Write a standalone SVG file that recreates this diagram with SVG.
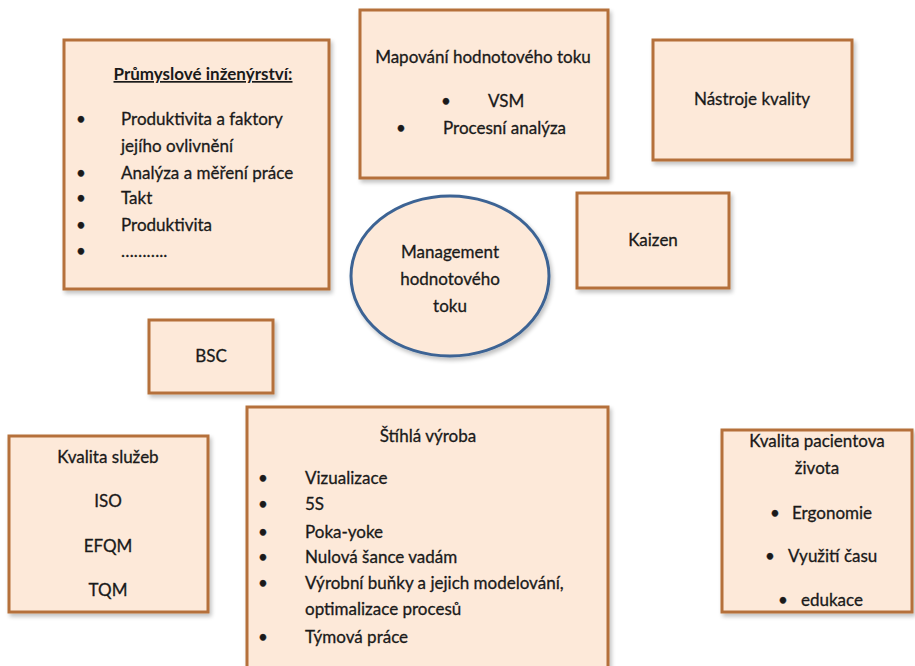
<svg xmlns="http://www.w3.org/2000/svg" width="915" height="666" viewBox="0 0 915 666">
  <defs>
    <filter id="shadow" x="-10%" y="-10%" width="125%" height="125%">
      <feGaussianBlur in="SourceAlpha" stdDeviation="2"/>
      <feOffset dx="2" dy="3" result="off"/>
      <feComponentTransfer><feFuncA type="linear" slope="0.25"/></feComponentTransfer>
      <feMerge><feMergeNode/><feMergeNode in="SourceGraphic"/></feMerge>
    </filter>
  </defs>
  <style>
    .box { fill: #FDE9D9; stroke: #B5703A; stroke-width: 3; filter: url(#shadow); }
    .oval { fill: #FDE9D9; stroke: #3C6494; stroke-width: 3; filter: url(#shadow); }
    text { font-family: "Lato", "Liberation Sans", sans-serif; font-size: 17px; fill: #1a1a1a; stroke: #1a1a1a; stroke-width: 0.3; }
    .c { text-anchor: middle; }
    .u { text-decoration: underline; font-weight: bold; stroke-width: 0; }
  </style>
  <rect width="915" height="666" fill="#ffffff"/>

  <g id="prumyslove-inzenyrstvi">
    <rect class="box" x="64" y="40" width="265" height="249"/>
    <text class="c u" x="203" y="80">Průmyslové inženýrství:</text>
    <text x="76" y="125">•</text><text x="121" y="125">Produktivita a faktory</text>
    <text x="121" y="152">jejího ovlivnění</text>
    <text x="76" y="179">•</text><text x="121" y="179">Analýza a měření práce</text>
    <text x="76" y="204">•</text><text x="121" y="204">Takt</text>
    <text x="76" y="231">•</text><text x="121" y="231">Produktivita</text>
    <text x="76" y="257">•</text><text x="121" y="257">………..</text>
  </g>

  <g id="mapovani-hodnotoveho-toku">
    <rect class="box" x="360" y="10" width="248" height="168"/>
    <text class="c" x="483" y="63">Mapování hodnotového toku</text>
    <text x="441" y="107">•</text><text x="488" y="107">VSM</text>
    <text x="396" y="134">•</text><text x="443" y="134">Procesní analýza</text>
  </g>

  <g id="nastroje-kvality">
    <rect class="box" x="653" y="40" width="199" height="120"/>
    <text class="c" x="752" y="105">Nástroje kvality</text>
  </g>

  <g id="kaizen">
    <rect class="box" x="577" y="193" width="152" height="95"/>
    <text class="c" x="653" y="246">Kaizen</text>
  </g>

  <g id="management-hodnotoveho-toku">
    <ellipse class="oval" cx="450" cy="276" rx="99" ry="80"/>
    <text class="c" x="450" y="258">Management</text>
    <text class="c" x="450" y="285">hodnotového</text>
    <text class="c" x="450" y="312">toku</text>
  </g>

  <g id="bsc">
    <rect class="box" x="149" y="320" width="124" height="73"/>
    <text class="c" x="211" y="362">BSC</text>
  </g>

  <g id="kvalita-sluzeb">
    <rect class="box" x="9" y="436" width="199" height="176"/>
    <text class="c" x="108" y="463">Kvalita služeb</text>
    <text class="c" x="108" y="507">ISO</text>
    <text class="c" x="108" y="552">EFQM</text>
    <text class="c" x="108" y="596">TQM</text>
  </g>

  <g id="stihla-vyroba">
    <rect class="box" x="247" y="407" width="361" height="262"/>
    <text class="c" x="428" y="442">Štíhlá výroba</text>
    <text x="258" y="484">•</text><text x="305" y="484">Vizualizace</text>
    <text x="258" y="510">•</text><text x="305" y="510">5S</text>
    <text x="258" y="538">•</text><text x="305" y="538">Poka-yoke</text>
    <text x="258" y="563">•</text><text x="305" y="563">Nulová šance vadám</text>
    <text x="258" y="589">•</text><text x="305" y="589">Výrobní buňky a jejich modelování,</text>
    <text x="305" y="615">optimalizace procesů</text>
    <text x="258" y="643">•</text><text x="305" y="643">Týmová práce</text>
  </g>

  <g id="kvalita-pacientova-zivota">
    <rect class="box" x="722" y="430" width="190" height="182"/>
    <text class="c" x="817" y="447">Kvalita pacientova</text>
    <text class="c" x="817" y="474">života</text>
    <text x="770" y="519">•</text><text x="792" y="519">Ergonomie</text>
    <text x="765" y="562">•</text><text x="788" y="562">Využití času</text>
    <text x="778" y="606">•</text><text x="801" y="606">edukace</text>
  </g>

  <g id="connectors"></g>
</svg>
